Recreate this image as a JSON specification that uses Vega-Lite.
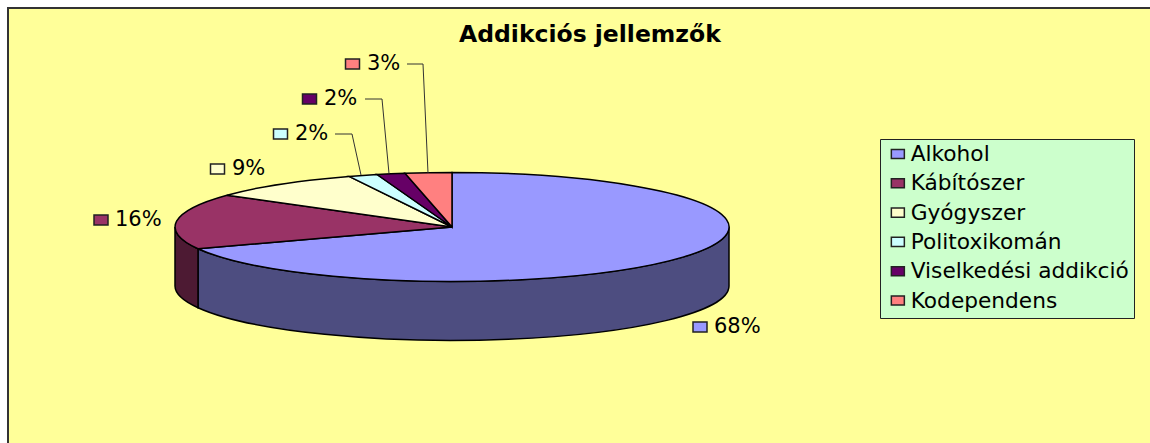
{"$schema":"https://vega.github.io/schema/vega-lite/v6.json","width":1150,"height":443,"padding":0,"autosize":{"type":"none"},"background":"white","title":{"text":"Addikciós jellemzők","font":"DejaVu Sans","fontSize":23.5,"fontWeight":"bold","color":"black","orient":"top","anchor":"start","frame":"group","offset":0,"dx":459,"dy":46},"config":{"view":{"stroke":null},"legend":{"orient":"none","legendX":880,"legendY":139,"title":null,"fillColor":"#CCFFCC","strokeColor":"#222222","padding":5,"labelFont":"DejaVu Sans","labelFontSize":21.7,"labelColor":"black","labelOffset":2,"labelLimit":400,"rowPadding":7.3,"clipHeight":20,"symbolSize":169,"symbolOffset":2,"symbolType":"M-1,-0.7h2v1.4h-2z","symbolStrokeColor":"#222222","symbolStrokeWidth":1.5}},"data":{"values":[{"category":"Alkohol","share":0.68,"rank":1},{"category":"Kábítószer","share":0.16,"rank":2},{"category":"Gyógyszer","share":0.09,"rank":3},{"category":"Politoxikomán","share":0.02,"rank":4},{"category":"Viselkedési addikció","share":0.02,"rank":5},{"category":"Kodependens","share":0.03,"rank":6}]},"resolve":{"scale":{"x":"independent","y":"independent","shape":"independent"}},"layer":[{"data":{"values":[{"panel":"chart area"}]},"mark":{"type":"rect","fill":"#FFFF99","stroke":"#333333","strokeWidth":2},"encoding":{"x":{"datum":8,"type":"quantitative","scale":{"domain":[0,1150],"nice":false,"zero":false},"axis":null},"x2":{"datum":1170},"y":{"datum":8,"type":"quantitative","scale":{"domain":[0,443],"reverse":true,"nice":false,"zero":false},"axis":null},"y2":{"datum":460}}},{"transform":[{"filter":"datum.rank <= 2"}],"mark":{"type":"point","filled":true,"opacity":1,"stroke":"black","strokeWidth":1.5,"size":4},"encoding":{"x":{"datum":452,"type":"quantitative","scale":{"domain":[0,1150],"nice":false,"zero":false},"axis":null},"y":{"datum":227,"type":"quantitative","scale":{"domain":[0,443],"reverse":true,"nice":false,"zero":false},"axis":null},"fill":{"field":"category","type":"nominal","sort":null,"scale":{"domain":["Alkohol","Kábítószer"],"range":["#4D4D80","#4D1A33"]},"legend":null},"shape":{"field":"category","type":"nominal","scale":{"domain":["Alkohol","Kábítószer"],"range":["M277,0A277,54.5 0 0 1 -254,21.7L-254,80.7A277,54.5 0 0 0 277,59Z","M-254,21.7A277,54.5 0 0 1 -277,0L-277,59A277,54.5 0 0 0 -254,80.7Z"]},"legend":null}}},{"mark":{"type":"point","filled":true,"opacity":1,"stroke":"black","strokeWidth":1.5,"size":4},"encoding":{"x":{"datum":452,"type":"quantitative","scale":{"domain":[0,1150],"nice":false,"zero":false},"axis":null},"y":{"datum":227,"type":"quantitative","scale":{"domain":[0,443],"reverse":true,"nice":false,"zero":false},"axis":null},"color":{"field":"category","type":"nominal","sort":null,"scale":{"domain":["Alkohol","Kábítószer","Gyógyszer","Politoxikomán","Viselkedési addikció","Kodependens"],"range":["#9999FF","#993366","#FFFFCC","#CCFFFF","#660066","#FF8080"]},"legend":{}},"shape":{"field":"category","type":"nominal","scale":{"domain":["Alkohol","Kábítószer","Gyógyszer","Politoxikomán","Viselkedési addikció","Kodependens"],"range":["M0,0L0,-54.5A277,54.5 0 1 1 -254,21.7Z","M0,0L-254,21.7A277,54.5 0 0 1 -225,-31.8Z","M0,0L-225,-31.8A277,54.5 0 0 1 -103,-50.6Z","M0,0L-103,-50.6A277,54.5 0 0 1 -75,-52.5Z","M0,0L-75,-52.5A277,54.5 0 0 1 -47,-53.7Z","M0,0L-47,-53.7A277,54.5 0 0 1 0,-54.5Z"]},"legend":null}}},{"transform":[{"filter":"datum.rank >= 4"}],"mark":{"type":"point","filled":false,"opacity":1,"fill":null,"stroke":"#333333","strokeWidth":1,"size":4},"encoding":{"x":{"datum":452,"type":"quantitative","scale":{"domain":[0,1150],"nice":false,"zero":false},"axis":null},"y":{"datum":227,"type":"quantitative","scale":{"domain":[0,443],"reverse":true,"nice":false,"zero":false},"axis":null},"shape":{"field":"category","type":"nominal","scale":{"domain":["Politoxikomán","Viselkedési addikció","Kodependens"],"range":["M-117,-93L-100,-93L-91,-52","M-87,-128L-70,-128L-63,-53.5","M-45,-163L-29,-163L-24,-54"]},"legend":null}}},{"mark":{"type":"point","filled":true,"opacity":1,"stroke":"#222222","strokeWidth":1.5,"size":4,"shape":"M-7,-5h14v10h-14z"},"encoding":{"x":{"field":"rank","type":"quantitative","scale":{"domain":[1,2,3,4,5,6],"range":[700,101,217.5,280.5,309.5,352.5]},"axis":null},"y":{"field":"rank","type":"quantitative","scale":{"domain":[1,2,3,4,5,6],"range":[327,220,169,134,99,64]},"axis":null},"color":{"field":"category","type":"nominal","sort":null,"legend":{}}}},{"mark":{"type":"text","align":"left","baseline":"middle","font":"DejaVu Sans","fontSize":21,"color":"black"},"encoding":{"x":{"field":"rank","type":"quantitative","scale":{"domain":[1,2,3,4,5,6],"range":[714,115,232,295,324,367]},"axis":null},"y":{"field":"rank","type":"quantitative","scale":{"domain":[1,2,3,4,5,6],"range":[327,220,169,134,99,64]},"axis":null},"text":{"field":"share","type":"quantitative","format":".0%"}}}]}
